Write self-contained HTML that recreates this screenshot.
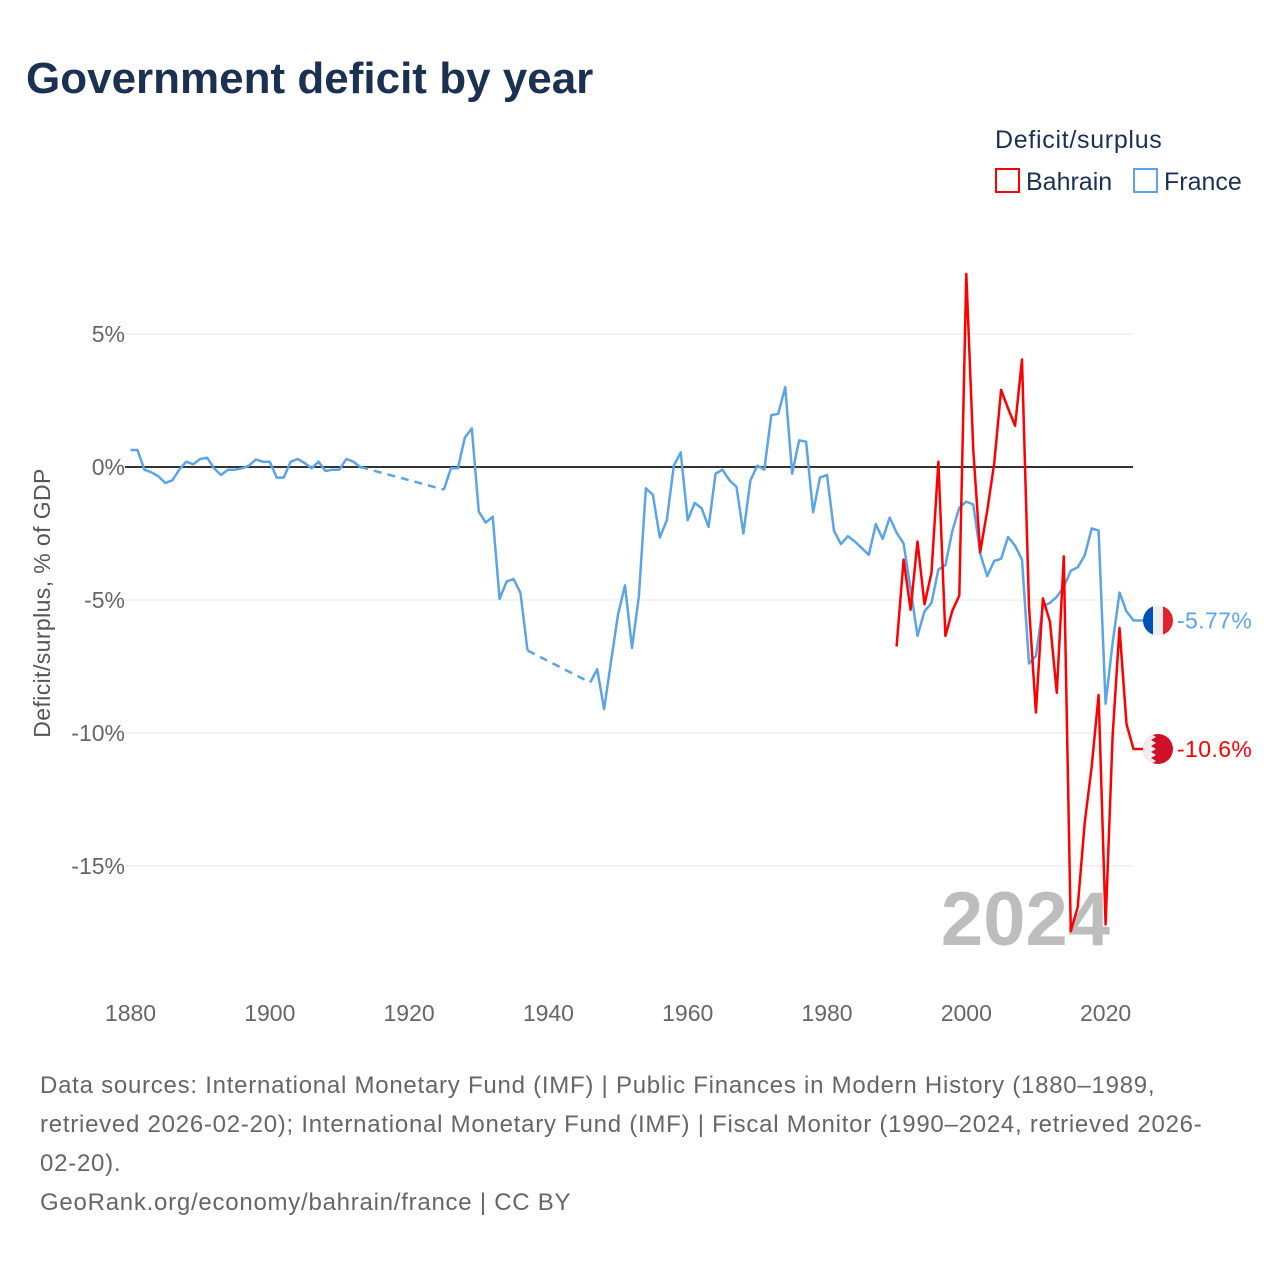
<!DOCTYPE html>
<html><head><meta charset="utf-8">
<style>
body{margin:0;background:#fff;font-family:"Liberation Sans",sans-serif;}
#wrap{position:relative;width:1280px;height:1280px;overflow:hidden;}
</style></head>
<body>
<div id="wrap">
<svg id="chart" width="1280" height="1280" viewBox="0 0 1280 1280" xmlns="http://www.w3.org/2000/svg">
<text x="26" y="93" font-size="44" font-weight="bold" fill="#1b3152" font-family="Liberation Sans, sans-serif">Government deficit by year</text>
<g font-family="Liberation Sans, sans-serif" font-size="25" fill="#1b3152">
<text x="995" y="148" letter-spacing="0.7">Deficit/surplus</text>
<rect x="996" y="169" width="23" height="23" fill="none" stroke="#ff0000" stroke-width="2"/>
<text x="1026" y="190">Bahrain</text>
<rect x="1134" y="169" width="23" height="23" fill="none" stroke="#5ba4e6" stroke-width="2"/>
<text x="1164" y="190">France</text>
</g>
<text transform="translate(50,603) rotate(-90)" text-anchor="middle" font-size="23" fill="#555" letter-spacing="0.4" font-family="Liberation Sans, sans-serif">Deficit/surplus, % of GDP</text>
<g id="grid"></g><g id="yticks"></g><g id="xticks"></g>
<text x="1110" y="945" text-anchor="end" font-size="76" font-weight="bold" fill="#bdbdbd" font-family="Liberation Sans, sans-serif">2024</text>
<g id="series"></g>
<g id="endlabels"></g>
<g font-family="Liberation Sans, sans-serif" font-size="24" fill="#666" letter-spacing="0.75">
<text x="40" y="1093">Data sources: International Monetary Fund (IMF) | Public Finances in Modern History (1880–1989,</text>
<text x="40" y="1132">retrieved 2026-02-20); International Monetary Fund (IMF) | Fiscal Monitor (1990–2024, retrieved 2026-</text>
<text x="40" y="1171">02-20).</text>
<text x="40" y="1210">GeoRank.org/economy/bahrain/france | CC BY</text>
</g>
</svg>
</div>
<script>
const yTicks=[5,0,-5,-10,-15];
const yTickLabels=["5%","0%","-5%","-10%","-15%"];
const xTicks=[1880,1900,1920,1940,1960,1980,2000,2020];
const franceYears=[1880,1881,1882,1883,1884,1885,1886,1887,1888,1889,1890,1891,1892,1893,1894,1895,1896,1897,1898,1899,1900,1901,1902,1903,1904,1905,1906,1907,1908,1909,1910,1911,1912,1913,1925,1926,1927,1928,1929,1930,1931,1932,1933,1934,1935,1936,1937,1946,1947,1948,1949,1950,1951,1952,1953,1954,1955,1956,1957,1958,1959,1960,1961,1962,1963,1964,1965,1966,1967,1968,1969,1970,1971,1972,1973,1974,1975,1976,1977,1978,1979,1980,1981,1982,1983,1984,1985,1986,1987,1988,1989,1990,1991,1992,1993,1994,1995,1996,1997,1998,1999,2000,2001,2002,2003,2004,2005,2006,2007,2008,2009,2010,2011,2012,2013,2014,2015,2016,2017,2018,2019,2020,2021,2022,2023,2024];
const franceValues=[0.64,0.64,-0.1,-0.2,-0.35,-0.6,-0.5,-0.1,0.2,0.1,0.3,0.35,-0.05,-0.3,-0.1,-0.1,-0.05,0.05,0.28,0.2,0.2,-0.4,-0.4,0.2,0.3,0.15,-0.05,0.2,-0.15,-0.1,-0.1,0.3,0.2,0.0,-0.85,-0.05,-0.05,1.1,1.45,-1.68,-2.09,-1.87,-4.96,-4.31,-4.21,-4.74,-6.9,-8.1,-7.6,-9.1,-7.3,-5.55,-4.45,-6.8,-4.85,-0.8,-1.05,-2.65,-2.0,0.05,0.55,-2.0,-1.35,-1.55,-2.25,-0.25,-0.1,-0.5,-0.75,-2.5,-0.5,0.05,-0.1,1.95,2.0,3.0,-0.25,1.0,0.95,-1.7,-0.4,-0.3,-2.4,-2.9,-2.6,-2.8,-3.05,-3.3,-2.15,-2.7,-1.9,-2.47,-2.88,-4.59,-6.35,-5.43,-5.11,-3.85,-3.69,-2.39,-1.53,-1.3,-1.41,-3.25,-4.1,-3.53,-3.45,-2.63,-2.96,-3.48,-7.39,-7.1,-5.24,-5.11,-4.88,-4.5,-3.9,-3.77,-3.33,-2.31,-2.39,-8.9,-6.62,-4.72,-5.43,-5.77];
const bahrainYears=[1990,1991,1992,1993,1994,1995,1996,1997,1998,1999,2000,2001,2002,2003,2004,2005,2006,2007,2008,2009,2010,2011,2012,2013,2014,2015,2016,2017,2018,2019,2020,2021,2022,2023,2024];
const bahrainValues=[-6.75,-3.48,-5.37,-2.8,-5.16,-3.97,0.2,-6.35,-5.4,-4.83,7.26,0.62,-3.2,-1.65,0.13,2.9,2.2,1.55,4.04,-5.24,-9.23,-4.94,-5.81,-8.49,-3.36,-17.45,-16.55,-13.38,-11.26,-8.57,-17.2,-10.12,-6.05,-9.66,-10.6];
const endLabels=["-5.77%","-10.6%"];

const NS="http://www.w3.org/2000/svg";
function X(yr){return 130.5+(yr-1880)*6.965;}
function Y(v){return 467-v*26.6;}
function mk(tag,attrs,parent){const e=document.createElementNS(NS,tag);for(const k in attrs)e.setAttribute(k,attrs[k]);parent.appendChild(e);return e;}
const grid=document.getElementById('grid'),yt=document.getElementById('yticks'),xt=document.getElementById('xticks'),ser=document.getElementById('series'),el=document.getElementById('endlabels');
yTicks.forEach((v,i)=>{
  const l=mk('line',{x1:125,x2:1133,y1:Y(v),y2:Y(v),stroke:v===0?'#333':'#e6e6e6','stroke-width':v===0?2:1},grid);
  
  
  const t=mk('text',{x:125,y:Y(v)+8,'text-anchor':'end','font-size':23,fill:'#666','font-family':'Liberation Sans, sans-serif'},yt);
  t.textContent=yTickLabels[i];
  
  
});
xTicks.forEach(yr=>{
  const t=mk('text',{x:X(yr),y:1021,'text-anchor':'middle','font-size':23,fill:'#666','font-family':'Liberation Sans, sans-serif'},xt);
  t.textContent=yr;
  
  
});
function drawSeries(years,vals,color,name){
  let d='';
  const g=mk('g',{},ser);
  
  
  for(let i=0;i<years.length;i++){
    if(i>0&&years[i]-years[i-1]>1){
      const dl=mk('line',{x1:X(years[i-1]),y1:Y(vals[i-1]),x2:X(years[i]),y2:Y(vals[i]),stroke:color,'stroke-width':2.5,'stroke-dasharray':'8,6'},g);
      
      
      d+=' M'+X(years[i]).toFixed(1)+' '+Y(vals[i]).toFixed(1);
    } else d+=(i===0?'M':' L')+X(years[i]).toFixed(1)+' '+Y(vals[i]).toFixed(1);
  }
  d+=' L1145 '+Y(vals[vals.length-1]).toFixed(1);
  const p=mk('path',{d:d,fill:'none',stroke:color,'stroke-width':2.5,'stroke-linejoin':'round'},g);
  
  
}
drawSeries(franceYears,franceValues,'#5ba4e6','france');
drawSeries(bahrainYears,bahrainValues,'#ff0000','bahrain');
function flag(v,kind,label,color){
  const cx=1158,cy=Y(v);
  const g=mk('g',{},el);
  
  
  const id='clip'+kind;
  const cp=mk('clipPath',{id:id},g);mk('circle',{cx:cx,cy:cy,r:15},cp);
  const gg=mk('g',{'clip-path':'url(#'+id+')'},g);
  if(kind==='france'){
    mk('rect',{x:cx-15,y:cy-15,width:10,height:30,fill:'#0050b5'},gg);
    mk('rect',{x:cx-5,y:cy-15,width:10,height:30,fill:'#eee'},gg);
    mk('rect',{x:cx+5,y:cy-15,width:10,height:30,fill:'#e0242f'},gg);
  } else {
    mk('rect',{x:cx-15,y:cy-15,width:30,height:30,fill:'#ce1126'},gg);
    let pts=`${cx-15},${cy-15} ${cx-7},${cy-15}`;
    for(let k=0;k<5;k++){const y0=cy-15+k*6;pts+=` ${cx-2},${y0+3} ${cx-7},${y0+6}`;}
    pts+=` ${cx-15},${cy+15}`;
    mk('polygon',{points:pts,fill:'#eee'},gg);
  }
  const t=mk('text',{x:1177,y:cy+8,'font-size':23,fill:color,'letter-spacing':0.4,'font-family':'Liberation Sans, sans-serif'},el);
  t.textContent=label;
  
  
}
flag(franceValues[franceValues.length-1],'france',endLabels[0],'#5ba4e6');
flag(bahrainValues[bahrainValues.length-1],'bahrain',endLabels[1],'#ff0000');
</script>
</body></html>
